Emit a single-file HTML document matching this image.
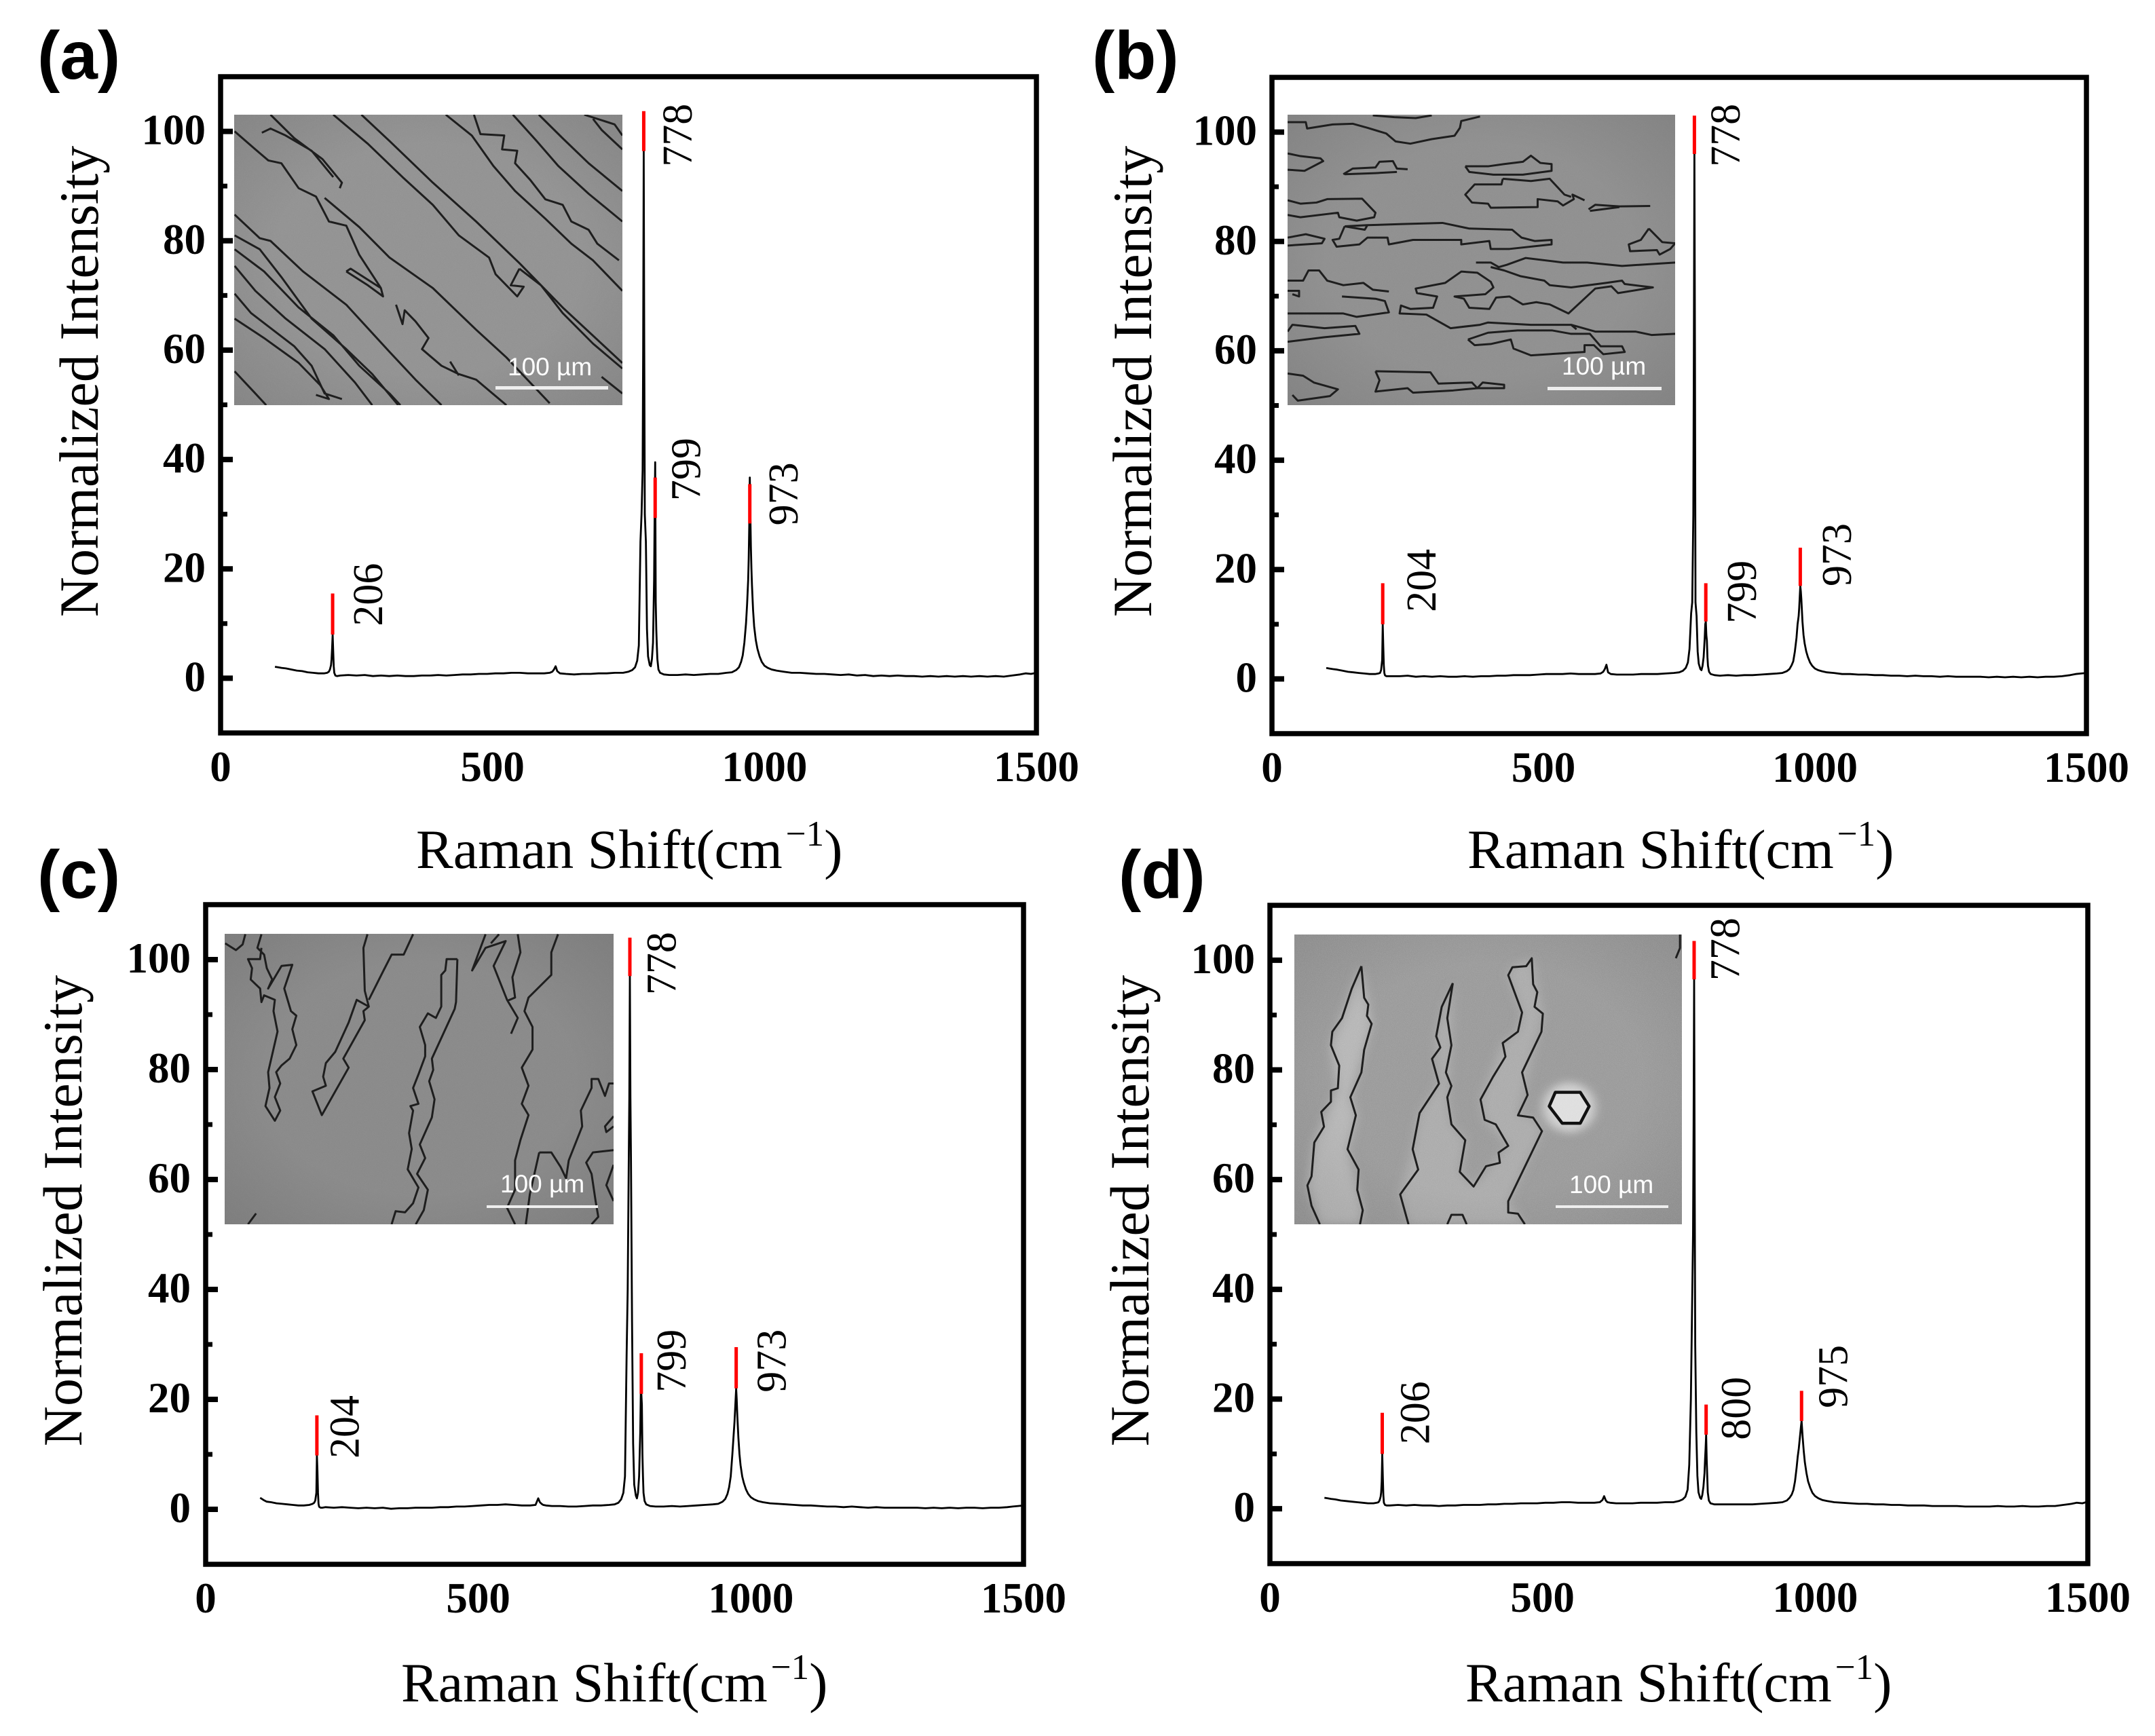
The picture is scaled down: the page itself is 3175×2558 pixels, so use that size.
<!DOCTYPE html>
<html lang="en">
<head>
<meta charset="utf-8">
<title>Raman spectra panels</title>
<style>
html,body{margin:0;padding:0;background:#fff;}
svg{display:block;}
text{font-family:"Liberation Serif",serif;fill:#000;}
.letter{font-family:"Liberation Sans",sans-serif;font-weight:bold;font-size:100px;}
.scale-text{font-family:"Liberation Sans",sans-serif;font-size:37px;fill:#fff;}
.cracks{fill:none;stroke:#1e1e1e;stroke-width:3;vector-effect:non-scaling-stroke;stroke-linejoin:round;}
</style>
</head>
<body>
<svg id="figure" xmlns="http://www.w3.org/2000/svg" width="3175" height="2558" viewBox="0 0 3175 2558">
<defs>
<filter id="haloBlur" x="-20%" y="-20%" width="140%" height="140%"><feGaussianBlur stdDeviation="18"/></filter>
<filter id="grain" x="0" y="0" width="100%" height="100%"><feTurbulence type="fractalNoise" baseFrequency="0.45" numOctaves="2" seed="4"/><feColorMatrix type="matrix" values="0 0 0 0 1  0 0 0 0 1  0 0 0 0 1  1.6 0 0 0 -0.65"/></filter>
<radialGradient id="vignette" cx="50%" cy="50%" r="72%"><stop offset="55%" stop-color="#000" stop-opacity="0"/><stop offset="100%" stop-color="#000" stop-opacity="0.10"/></radialGradient>
</defs>
<rect x="0" y="0" width="3175" height="2558" fill="#fff"/>

<text class="letter" x="55" y="116">(a)</text>
<text class="letter" x="1609" y="116">(b)</text>
<text class="letter" x="55" y="1323">(c)</text>
<text class="letter" x="1648" y="1323">(d)</text>

<g>
<svg x="345" y="169" width="572" height="428" viewBox="541 415 897 1047" preserveAspectRatio="none">
<rect x="541" y="415" width="897" height="1047" fill="#939393"/>
<rect x="541" y="415" width="897" height="1047" fill="url(#vignette)"/>
<rect x="541" y="415" width="897" height="1047" filter="url(#grain)" opacity="0.06"/>
<path class="cracks" d="M625,415 680,500 745,575 790,660 785,680 M605,480 625,465 660,490 720,545 770,640 M542,475 590,540 620,580 650,590 690,680 730,710 750,770 760,800 800,815 830,920 880,1040 M750,715 830,820 900,930 1000,1040 1100,1190 1170,1290 1270,1455 M835,415 900,510 1000,660 1100,800 1200,950 1300,1110 1438,1310 M770,415 850,520 930,640 1000,740 1060,850 1130,930 1145,990 1195,1070 1210,1035 1180,1030 1200,970 M1030,415 1090,490 1140,600 1190,690 1260,790 1320,880 1370,940 1438,1050 M1095,415 1110,485 1165,490 1160,540 1195,545 1190,590 1225,650 1260,720 1300,740 1320,800 1360,830 1380,880 1430,940 M1185,415 1240,510 1290,600 1360,700 1438,800 M1245,415 1300,500 1360,590 1438,690 M1350,415 1420,450 1438,490 M1370,430 1390,470 1438,540 M542,775 600,860 625,870 700,980 800,1100 900,1270 960,1370 1020,1462 M542,850 600,900 650,1000 720,1150 800,1260 860,1350 920,1462 M542,900 610,980 690,1110 770,1210 830,1320 900,1420 925,1462 M542,960 590,1050 660,1150 750,1260 820,1380 860,1462 M542,1060 580,1130 680,1250 720,1320 750,1420 790,1440 M542,1150 610,1220 690,1310 740,1390 760,1440 730,1425 M542,1340 590,1420 615,1462 M800,980 850,1030 885,1070 880,1040 810,970 800,980 M915,1100 930,1170 935,1120 960,1160 990,1220 975,1260 1020,1320 1060,1350 1100,1370 1170,1462 M1040,1305 1060,1355 M1200,970 1250,1030 1300,1130 1370,1240 1438,1330 M1390,1360 1438,1420"/>
</svg>
<rect x="730" y="569" width="166" height="5" fill="#eee"/>
<text class="scale-text" x="748" y="553">100 µm</text>
</g>

<g>
<svg x="1897" y="169" width="571" height="428" viewBox="42 57 1446 1283" preserveAspectRatio="none">
<rect x="42" y="57" width="1446" height="1283" fill="#909090"/>
<rect x="42" y="57" width="1446" height="1283" fill="url(#vignette)"/>
<rect x="42" y="57" width="1446" height="1283" filter="url(#grain)" opacity="0.06"/>
<path class="cracks" d="M42,90 110,90 115,118 210,100 285,97 340,115 410,140 445,175 500,185 580,165 665,150 685,115 690,85 760,65 M360,60 440,68 520,72 580,60 M42,228 90,240 165,250 175,262 130,290 105,305 42,300 M250,320 285,295 370,290 385,265 435,262 450,295 490,298 M255,320 370,315 450,310 M705,285 790,285 850,275 920,265 950,238 985,270 1027,275 1027,305 920,322 810,322 720,310 705,285 M845,340 840,365 740,365 705,410 730,445 790,450 800,468 975,465 975,430 1050,440 1070,458 1110,430 1105,410 1150,435 M845,340 950,350 1020,340 1075,410 1100,420 M1165,475 1190,455 1280,462 1395,460 M1170,482 1280,465 M42,435 90,450 150,445 190,430 320,428 370,490 365,510 300,525 235,510 230,490 90,510 42,500 M255,550 340,545 470,540 620,535 720,560 880,565 915,600 965,615 1027,610 1027,630 870,650 800,650 795,615 690,630 690,610 510,610 420,630 415,600 340,600 310,630 225,640 210,610 235,605 255,550 M255,550 330,565 340,545 M42,600 110,585 180,605 170,625 42,635 M1390,560 1440,620 1488,625 1470,650 1430,675 1420,655 1320,660 1315,630 1360,610 1390,560 M745,710 800,710 830,730 860,720 930,690 1070,710 1160,710 1290,725 1488,710 M800,730 850,745 910,770 1000,790 1020,810 1100,820 1230,800 1290,790 1300,805 1405,820 1275,845 1250,815 1190,825 1140,880 1090,935 1020,895 970,885 920,895 870,860 820,865 795,915 720,910 700,870 665,860 780,850 810,820 800,795 750,755 690,750 630,800 520,825 525,845 600,860 585,910 500,915 465,900 460,935 560,940 650,1000 760,985 790,975 950,985 1100,985 1190,1015 1340,1015 1400,1030 1488,1025 M42,790 100,790 120,745 160,745 190,790 250,810 325,800 360,830 420,838 M245,860 370,870 405,880 420,930 300,950 250,935 42,935 M42,835 85,835 85,860 60,850 M42,1015 60,985 180,1000 295,990 310,1025 180,1040 42,1060 M715,1050 790,1020 900,1010 1030,1010 1100,1025 1170,1025 1210,1080 1290,1080 1300,1105 1220,1115 1185,1075 1150,1075 1150,1105 950,1120 885,1090 875,1050 800,1070 740,1075 715,1050 M1100,985 1120,1005 M370,1190 575,1195 605,1245 730,1240 750,1265 770,1240 850,1250 850,1265 750,1265 660,1275 510,1285 490,1265 370,1280 385,1230 370,1190 M42,1200 100,1210 140,1240 230,1270 200,1300 80,1320 60,1295"/>
</svg>
<rect x="2280" y="570" width="168" height="5" fill="#eee"/>
<text class="scale-text" x="2301" y="552">100 µm</text>
</g>

<g>
<svg x="331" y="1376" width="573" height="428" viewBox="28 48 1449 1285" preserveAspectRatio="none">
<rect x="28" y="48" width="1449" height="1285" fill="#8a8a8a"/>
<rect x="28" y="48" width="1449" height="1285" fill="url(#vignette)"/>
<rect x="28" y="48" width="1449" height="1285" filter="url(#grain)" opacity="0.06"/>
<path class="cracks" d="M30,90 70,120 95,95 105,50 M165,50 150,110 175,140 185,200 205,250 190,290 240,190 280,185 250,290 275,390 295,410 280,470 295,540 270,600 240,630 220,660 235,710 215,770 235,830 215,875 180,810 195,730 190,660 225,480 210,390 215,340 175,320 165,350 160,290 125,250 130,200 115,160 160,160 165,110 M560,50 545,110 550,300 565,370 520,340 490,440 440,570 405,620 395,680 405,720 355,745 390,850 490,640 470,600 550,430 545,390 565,370 M565,340 620,210 650,140 695,140 730,50 M895,160 855,160 850,210 835,230 835,370 815,420 785,400 755,460 775,540 775,590 750,670 730,730 750,800 720,810 730,830 715,930 725,1000 710,1090 750,1170 730,1240 700,1280 665,1275 650,1333 M895,160 890,350 885,380 800,600 805,650 790,700 810,780 800,860 755,980 775,1040 745,1110 785,1180 770,1270 740,1333 M1000,50 950,210 1000,110 1075,80 1030,190 1080,340 1120,420 1095,490 M1050,50 1020,90 M1120,50 1130,130 1100,240 1110,330 1080,345 M1270,50 1245,130 1245,230 1160,330 1145,390 1175,460 1175,560 1135,640 1160,720 1135,800 1160,850 1130,960 1110,1050 1110,1180 1080,1260 1110,1333 M1200,1015 1245,1015 1280,1080 1300,1130 1310,1050 1360,900 1355,830 1395,730 1395,690 1420,690 1445,765 1460,710 1477,710 M1200,1015 1165,1200 1150,1333 M1477,1005 1400,1015 1375,1060 1395,1110 1410,1230 1420,1300 1395,1333 M1477,855 1445,900 1450,925 1477,900 M1477,1070 1450,1160 1477,1230 M145,1285 115,1333"/>
</svg>
<rect x="717" y="1776" width="164" height="4" fill="#eee"/>
<text class="scale-text" x="737" y="1757">100 µm</text>
</g>

<g>
<svg x="1907" y="1377" width="571" height="427" viewBox="18 110 1399 1282" preserveAspectRatio="none">
<rect x="18" y="110" width="1399" height="1282" fill="#9a9a9a"/>
<g filter="url(#haloBlur)">
<path fill="#b6b6b6" d="M260,250 150,600 175,790 90,1030 65,1220 110,1392 255,1392 265,1330 210,1060 240,910 220,830 297,505 Z"/>
<path fill="#ababab" d="M590,325 530,560 540,770 470,900 445,1060 400,1260 430,1392 570,1392 640,1392 850,1392 790,1290 912,980 880,920 825,910 915,460 875,215 805,255 790,290 840,455 825,540 770,590 690,840 705,930 790,1045 665,1225 615,1160 635,1020 585,950 570,830 585,600 Z"/>
<ellipse cx="1010" cy="875" rx="95" ry="110" fill="#cfcfcf"/>
</g>
<path d="M960,808 1050,808 1082,870 1050,945 985,945 938,870 Z" fill="#dedede"/>
<rect x="18" y="110" width="1399" height="1282" fill="url(#vignette)"/>
<rect x="18" y="110" width="1399" height="1282" filter="url(#grain)" opacity="0.22"/>
<path class="cracks" d="M260,250 225,350 190,480 155,540 150,600 180,690 175,790 150,800 150,850 115,895 125,960 90,1030 80,1180 65,1220 80,1310 110,1392 M260,250 270,390 285,420 280,470 297,505 270,620 260,720 220,830 240,910 210,1060 250,1150 245,1240 265,1330 255,1392 M590,325 550,430 530,560 545,610 515,660 540,770 470,900 445,1060 465,1150 400,1260 430,1392 M590,325 570,480 585,600 565,720 585,780 570,830 585,950 635,1020 615,1160 665,1225 710,1135 760,1120 755,1075 790,1045 745,950 705,930 690,840 735,740 780,650 770,590 825,540 840,455 790,290 805,255 855,250 875,215 880,330 895,365 885,430 915,460 910,540 840,720 860,820 825,910 880,920 912,980 790,1290 790,1340 825,1345 850,1392 M570,1392 585,1350 625,1350 640,1392 M1410,110 1410,170 1395,215"/>
<path class="cracks" style="stroke-width:4.5;stroke:#111" d="M960,808 1050,808 1082,870 1050,945 985,945 938,870 Z"/>
</svg>
<rect x="2292" y="1776" width="166" height="4" fill="#eee"/>
<text class="scale-text" x="2312" y="1758">100 µm</text>
</g>
<g id="charts"></g>
</svg>

<script>
const xTickValues = [0, 500, 1000, 1500];
const yTickValues = [0, 20, 40, 60, 80, 100];
const yMinorTickValues = [10, 30, 50, 70, 90];

const shiftGrid = [
100,106,112,120,130,140,150,160,170,180,190,196,
199,201,203,204,205,206,207,208,209,211,214,220,
235,250,265,280,295,310,325,340,355,370,385,400,
415,430,445,460,475,490,505,520,535,550,565,580,
595,605,610,613,616,619,624,635,650,665,680,695,
710,725,740,750,757,762,766,769,772,774,776,777,
778,779,780,782,784,786,789,791,793,795,797,798,
799,800,801,802,803,805,808,815,825,840,855,870,
885,900,915,930,940,948,953,957,960,963,966,968,
970,971,972,973,974,975,976,977,979,981,984,987,
991,995,1000,1006,1013,1022,1035,1050,1065,1080,1095,1110,
1125,1140,1155,1170,1185,1200,1215,1230,1245,1260,1275,1290,
1305,1320,1335,1350,1365,1380,1395,1410,1425,1440,1455,1470,
1480,1490,1500];

const intensityA = [
2.1,2.0,1.9,1.8,1.6,1.4,1.3,1.1,1.0,0.9,0.9,1.0,
1.2,1.6,2.4,3.5,5.5,8.0,5.0,2.2,1.0,0.5,0.4,0.5,
0.6,0.5,0.6,0.4,0.5,0.4,0.5,0.4,0.4,0.5,0.5,0.6,
0.5,0.6,0.7,0.7,0.8,0.8,0.9,0.9,1.0,1.0,0.9,0.9,
0.9,1.0,1.2,1.6,2.2,1.3,0.9,0.8,0.7,0.8,0.8,0.9,
0.9,1.0,1.0,1.2,1.5,2.0,3.2,6.0,25,30,38,60,
96.4,60,30,25,9,4,2.4,2.2,3.5,6.5,18,30,
39.5,14,9,6,3.5,1.6,1.0,0.7,0.6,0.6,0.7,0.6,
0.7,0.8,0.8,1.0,1.1,1.5,2.0,3.0,4.2,6.5,10,13.5,
18,22,28,36.7,30,24,20,17,12.5,9.5,7,5.4,
4,3,2.3,1.9,1.6,1.4,1.2,1.0,1.0,0.9,0.8,0.8,
0.7,0.6,0.7,0.5,0.6,0.4,0.5,0.4,0.5,0.4,0.4,0.3,
0.4,0.3,0.4,0.3,0.4,0.3,0.4,0.3,0.4,0.3,0.5,0.7,
0.9,0.8,1.0];
const intensityB = [
2.0,1.9,1.8,1.7,1.5,1.3,1.2,1.1,1.0,0.9,0.9,1.0,
1.1,1.6,3.5,10,6,2.5,1.1,0.7,0.6,0.5,0.5,0.5,
0.5,0.6,0.4,0.5,0.4,0.5,0.4,0.4,0.5,0.4,0.5,0.5,
0.6,0.6,0.7,0.7,0.7,0.8,0.9,0.9,0.9,1.0,0.9,0.9,
0.9,1.0,1.3,1.8,2.6,1.2,0.9,0.8,0.8,0.8,0.9,0.9,
0.9,1.0,1.1,1.2,1.5,2.0,3,5.5,12,14,30,60,
96,60,14,11.5,5,2.8,1.8,1.6,2.4,4,7.5,10,
10.5,8,7,4,2.4,1.3,0.9,0.7,0.6,0.7,0.6,0.7,
0.7,0.8,0.9,1.0,1.1,1.4,1.8,2.5,3.2,5,7.5,10,
11.5,13,15,17,16,14.5,12.5,10.5,8,6.5,5,4,
3,2.4,1.9,1.6,1.4,1.2,1.1,0.9,0.9,0.8,0.8,0.7,
0.7,0.6,0.6,0.5,0.6,0.5,0.5,0.4,0.5,0.4,0.4,0.4,
0.4,0.3,0.4,0.3,0.4,0.3,0.4,0.3,0.4,0.4,0.5,0.7,
0.9,1.0,1.1];
const intensityC = [
2.1,1.7,1.4,1.3,1.1,1.0,0.9,0.8,0.7,0.7,0.8,1.0,
1.2,1.6,3,9.8,7,3,1,0.5,0.4,0.3,0.3,0.4,
0.3,0.4,0.3,0.2,0.3,0.2,0.3,0.1,0.2,0.2,0.3,0.3,
0.3,0.4,0.4,0.5,0.5,0.6,0.7,0.8,0.8,0.9,0.8,0.7,
0.7,0.8,2.0,1.3,1.0,0.8,0.7,0.6,0.6,0.5,0.5,0.6,
0.7,0.7,0.8,0.9,1.2,1.8,3,6,28,40,64,75,
97,75,64,34,12,4.5,2.5,2,3,6,14,21,
21,19,10,6,3,1.5,0.9,0.6,0.5,0.5,0.6,0.5,
0.6,0.7,0.8,0.9,1.0,1.4,1.9,2.8,4,6,10,13,
16,18,20,22,20,17,15,13,10,8,6,4.8,
3.6,2.8,2.2,1.8,1.5,1.3,1.1,1,0.9,0.8,0.7,0.7,
0.6,0.5,0.5,0.4,0.5,0.4,0.3,0.4,0.3,0.3,0.3,0.3,
0.3,0.2,0.3,0.2,0.3,0.2,0.3,0.3,0.2,0.3,0.3,0.4,
0.5,0.6,0.7];
const intensityD = [
2.0,1.9,1.8,1.7,1.5,1.4,1.3,1.2,1.1,1.0,1.0,1.1,
1.2,1.5,2.2,3,5,10,6,2.5,1.1,0.7,0.6,0.6,
0.7,0.6,0.7,0.6,0.6,0.5,0.6,0.6,0.7,0.7,0.7,0.8,
0.8,0.9,0.9,1,1,1,1.1,1.1,1.2,1.2,1.1,1.1,
1.1,1.2,1.6,2.3,1.5,1.2,1.1,1,1,1,1.1,1.1,
1.1,1.2,1.2,1.4,1.7,2.2,3.5,8,20,35,50,70,
96.5,60,30,14,6,3,2.0,1.8,2.5,4,6.5,9,
11,13.5,9,6,3,1.5,1,0.8,0.8,0.8,0.8,0.8,
0.8,0.9,1,1.1,1.2,1.5,2,2.6,3.4,5,7.5,9.5,
11,12,13,14,15,16,14.5,13,10.5,8.5,6.5,5,
3.8,2.9,2.3,1.9,1.6,1.4,1.2,1.1,1,0.9,0.9,0.8,
0.8,0.7,0.7,0.6,0.6,0.6,0.5,0.5,0.5,0.5,0.4,0.4,
0.4,0.4,0.5,0.4,0.4,0.5,0.4,0.4,0.5,0.5,0.7,0.9,
1.1,1.0,1.3];

const peaksA = [206, 778, 799, 973];
const markerLowA = [8, 96.4, 29.3, 28.3];
const markerHighA = [15.5, 103.7, 36.7, 35.5];
const labelShiftA = [272, 841, 857, 1036];
const labelLevelA = [15.3, 99.3, 38.2, 33.7];

const peaksB = [204, 778, 799, 973];
const markerLowB = [10, 96, 10.5, 17];
const markerHighB = [17.5, 103, 17.5, 24];
const labelShiftB = [276, 836, 866, 1041];
const labelLevelB = [18, 99.4, 15.9, 22.7];

const peaksC = [204, 778, 799, 973];
const markerLowC = [9.8, 97, 21, 22];
const markerHighC = [17.1, 104, 28.4, 29.5];
const labelShiftC = [256, 837, 855, 1039];
const labelLevelC = [15, 99.3, 27, 27];

const peaksD = [206, 778, 800, 975];
const markerLowD = [10, 96.5, 13.5, 16];
const markerHighD = [17.5, 103.5, 19, 21.5];
const labelShiftD = [267, 836, 856, 1034];
const labelLevelD = [17.5, 102, 18.3, 24.1];

const NS = 'http://www.w3.org/2000/svg';
const chartLayer = document.getElementById('charts');

function make(tag, parent, attrs, txt) {
  const n = document.createElementNS(NS, tag);
  for (const k in attrs) n.setAttribute(k, attrs[k]);
  if (txt !== undefined) n.textContent = txt;
  parent.appendChild(n);
  return n;
}

function drawPanel(p) {
  const xOf = v => p.left + (v - 0) * (p.right - p.left) / 1500;
  const yOf = v => p.bottom - (v + 10) * (p.bottom - p.top) / 120;

  const g = make('g', chartLayer, {});
  
  

  const line = make('polyline', g, {
    points: shiftGrid.map((s, i) => xOf(s).toFixed(1) + ',' + yOf(p.intensity[i]).toFixed(1)).join(' '),
    fill: 'none', stroke: '#000', 'stroke-width': 2.8, 'stroke-linejoin': 'round'
  });
  
  

  p.peaks.forEach((pk, i) => {
    const mark = make('line', g, {
      x1: xOf(pk), x2: xOf(pk), y1: yOf(p.low[i]), y2: yOf(p.high[i]),
      stroke: '#f00', 'stroke-width': 5
    });
    
    

    const cx = xOf(p.labelShift[i]);
    const cy = yOf(p.labelLevel[i]);
    const lab = make('text', g, {
      x: cx, y: cy, 'font-size': 62, 'text-anchor': 'middle', 'dominant-baseline': 'central',
      transform: 'rotate(-90 ' + cx + ' ' + cy + ')'
    }, String(pk));
    
    
  });

  yTickValues.forEach(v => {
    const t = make('line', g, {x1: p.left, x2: p.left + 18, y1: yOf(v), y2: yOf(v), stroke: '#000', 'stroke-width': 8});
    
    
    const l = make('text', g, {x: p.left - 22, y: yOf(v) + 19, 'font-size': 63, 'font-weight': 'bold', 'text-anchor': 'end'}, String(v));
    
    
  });
  yMinorTickValues.forEach(v => {
    const t = make('line', g, {x1: p.left, x2: p.left + 10, y1: yOf(v), y2: yOf(v), stroke: '#000', 'stroke-width': 7});
    
    
  });
  xTickValues.forEach(v => {
    const l = make('text', g, {x: xOf(v), y: p.bottom + 71, 'font-size': 63, 'font-weight': 'bold', 'text-anchor': 'middle'}, String(v));
    
    
  });

  const frame = make('rect', g, {x: p.left, y: p.top, width: p.right - p.left, height: p.bottom - p.top, fill: 'none', stroke: '#000', 'stroke-width': 7.5});
  
  

  const yt = make('text', g, {
    x: p.yTitleX, y: p.yTitleY, 'font-size': 82, 'text-anchor': 'middle',
    transform: 'rotate(-90 ' + p.yTitleX + ' ' + p.yTitleY + ')'
  }, 'Normalized Intensity');
  
  

  const xt = make('text', g, {x: p.xTitleX, y: p.xTitleY, 'font-size': 82}, 'Raman Shift(cm');
  
  
  const sup = make('tspan', xt, {'font-size': 53, dy: -33, dx: 5}, '\u22121');
  
  
  const close = make('tspan', xt, {'font-size': 82, dy: 33}, ')');
  
  
}

drawPanel({id:'a', left:325, right:1527, top:113, bottom:1080, yTitleX:144, yTitleY:562, xTitleX:613, xTitleY:1279,
  intensity:intensityA, peaks:peaksA, low:markerLowA, high:markerHighA, labelShift:labelShiftA, labelLevel:labelLevelA});
drawPanel({id:'b', left:1874, right:3074, top:114, bottom:1081, yTitleX:1696, yTitleY:562, xTitleX:2162, xTitleY:1279,
  intensity:intensityB, peaks:peaksB, low:markerLowB, high:markerHighB, labelShift:labelShiftB, labelLevel:labelLevelB});
drawPanel({id:'c', left:303, right:1508, top:1333, bottom:2305, yTitleX:120, yTitleY:1784, xTitleX:591, xTitleY:2507,
  intensity:intensityC, peaks:peaksC, low:markerLowC, high:markerHighC, labelShift:labelShiftC, labelLevel:labelLevelC});
drawPanel({id:'d', left:1871, right:3076, top:1334, bottom:2304, yTitleX:1692, yTitleY:1784, xTitleX:2159, xTitleY:2507,
  intensity:intensityD, peaks:peaksD, low:markerLowD, high:markerHighD, labelShift:labelShiftD, labelLevel:labelLevelD});
</script>
</body>
</html>
